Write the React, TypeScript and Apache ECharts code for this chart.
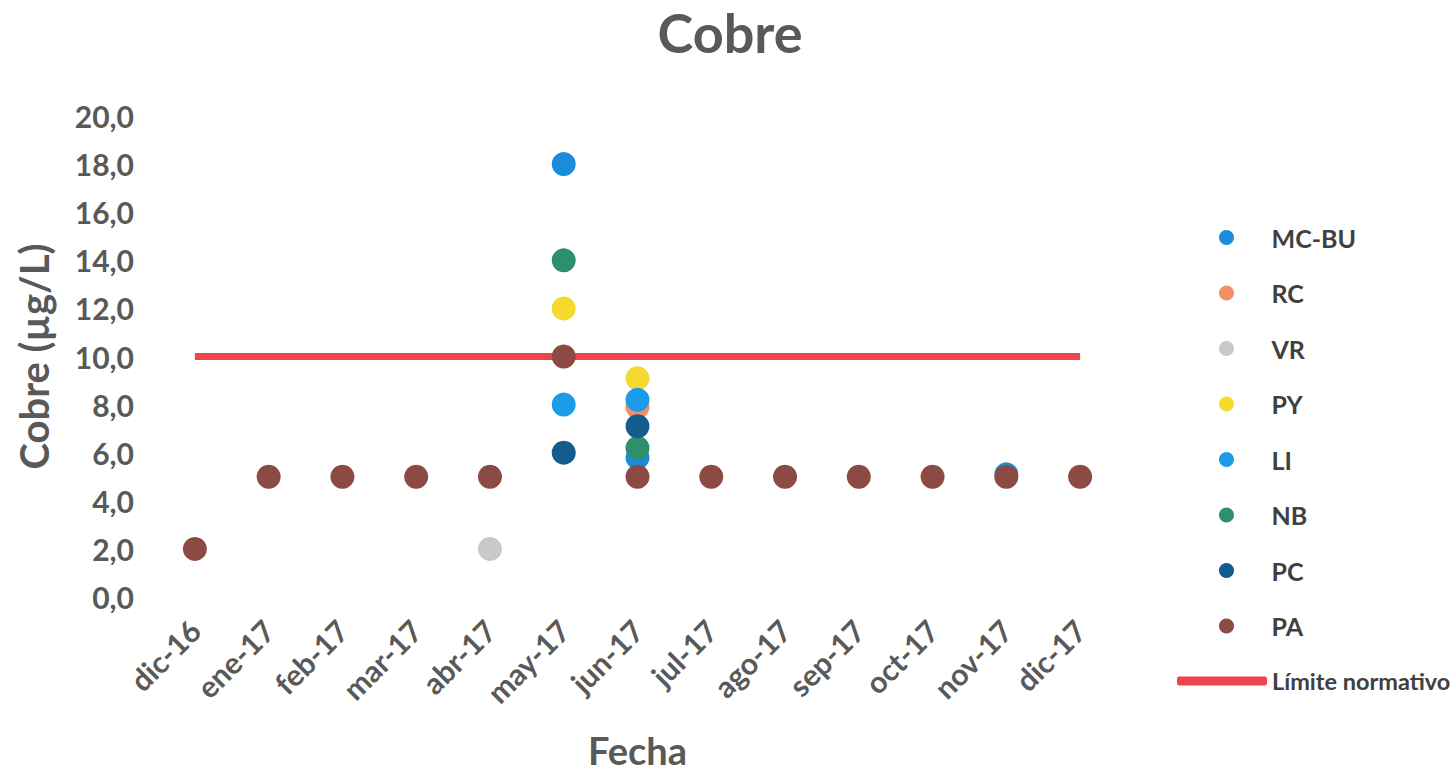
import React, { useEffect, useRef } from "react";
import * as echarts from "echarts";

const categories = ["dic-16", "ene-17", "feb-17", "mar-17", "abr-17", "may-17", "jun-17", "jul-17", "ago-17", "sep-17", "oct-17", "nov-17", "dic-17"];
const yTicks = [0, 2, 4, 6, 8, 10, 12, 14, 16, 18, 20];

const mcBu = [null, null, null, null, null, 18.0, 5.8, null, null, null, null, 5.1, null];
const rc = [null, null, null, null, null, null, 7.9, null, null, null, null, null, null];
const vr = [null, null, null, null, 2.0, null, null, null, null, null, null, null, null];
const py = [null, null, null, null, null, 12.0, 9.1, null, null, null, null, null, null];
const li = [null, null, null, null, null, 8.0, 8.2, null, null, null, null, null, null];
const nb = [null, null, null, null, null, 14.0, 6.2, null, null, null, null, null, null];
const pc = [null, null, null, null, null, 6.0, 7.1, null, null, null, null, null, null];
const pa = [2.0, 5.0, 5.0, 5.0, 5.0, 10.0, 5.0, 5.0, 5.0, 5.0, 5.0, 5.0, 5.0];
const limite = [10, 10, 10, 10, 10, 10, 10, 10, 10, 10, 10, 10, 10];

const scatterSeries = [
  { name: "MC-BU", data: mcBu, color: "#1B8CDC" },
  { name: "RC", data: rc, color: "#F48E66" },
  { name: "VR", data: vr, color: "#C9C9C9" },
  { name: "PY", data: py, color: "#F6D92E" },
  { name: "LI", data: li, color: "#1B9BEA" },
  { name: "NB", data: nb, color: "#2F8E6C" },
  { name: "PC", data: pc, color: "#145C8E" },
  { name: "PA", data: pa, color: "#8C4A44" },
];

const FONT = "Lato, 'Open Sans', sans-serif";
const GRAY = "#595959";

export default function App() {
  const ref = useRef<HTMLDivElement>(null);
  useEffect(() => {
    if (!ref.current) return;
    const chart = echarts.init(ref.current, null, { renderer: "svg" });
    chart.setOption({
      animation: false,
      backgroundColor: "#ffffff",
      title: {
        text: "Cobre",
        left: 725,
        textAlign: "center",
        top: 0,
        textStyle: { fontFamily: FONT, fontSize: 54, fontWeight: "bold", color: GRAY },
      },
      legend: [
        {
          orient: "vertical",
          left: 1214,
          top: 220,
          itemWidth: 80,
          itemHeight: 15,
          itemGap: 30.5,
          icon: "circle",
          data: scatterSeries.map((s) => s.name),
          textStyle: { fontFamily: FONT, fontSize: 25, fontWeight: "bold", color: "#404040" },
        },
        {
          orient: "vertical",
          left: 1172,
          top: 664,
          itemWidth: 90,
          itemHeight: 9,
          icon: "roundRect",
          data: ["Límite normativo"],
          textStyle: { fontFamily: FONT, fontSize: 23.5, fontWeight: "bold", color: "#404040" },
        },
      ],
      grid: { left: 158, right: 338, top: 116, bottom: 181, containLabel: false, outerBoundsMode: "none" },
      xAxis: {
        type: "category",
        data: categories,
        boundaryGap: true,
        axisLine: { show: false },
        axisTick: { show: false },
        axisLabel: {
          rotate: 45,
          interval: 0,
          margin: 28,
          fontFamily: FONT,
          fontSize: 30,
          fontWeight: "bold",
          color: GRAY,
        },
        name: "Fecha",
        nameLocation: "middle",
        nameGap: 134,
        nameTextStyle: { fontFamily: FONT, fontSize: 38, fontWeight: "bold", color: GRAY },
      },
      yAxis: {
        type: "value",
        min: 0,
        max: 20,
        interval: 2,
        axisLine: { show: false },
        axisTick: { show: false },
        splitLine: { show: false },
        axisLabel: {
          margin: 24,
          fontFamily: FONT,
          fontSize: 30,
          fontWeight: "bold",
          color: GRAY,
          formatter: (v: number) => (yTicks.includes(v) ? v.toFixed(1).replace(".", ",") : ""),
        },
        name: "Cobre (µg/L)",
        nameLocation: "middle",
        nameGap: 104,
        nameTextStyle: { fontFamily: FONT, fontSize: 40, fontWeight: "bold", color: GRAY },
      },
      series: [
        {
          name: "Límite normativo",
          type: "line",
          data: limite,
          symbol: "none",
          lineStyle: { color: "#EF444C", width: 7 },
          itemStyle: { color: "#EF444C" },
          z: 1,
        },
        ...scatterSeries.map((s, i) => ({
          name: s.name,
          type: "scatter",
          data: s.data,
          symbol: "circle",
          symbolSize: 24,
          itemStyle: { color: s.color, opacity: 1 },
          z: 2 + i,
        })),
      ],
    });
    return () => chart.dispose();
  }, []);
  return <div ref={ref} style={{ position: "fixed", left: 0, top: 0, width: 1455, height: 778 }} />;
}
